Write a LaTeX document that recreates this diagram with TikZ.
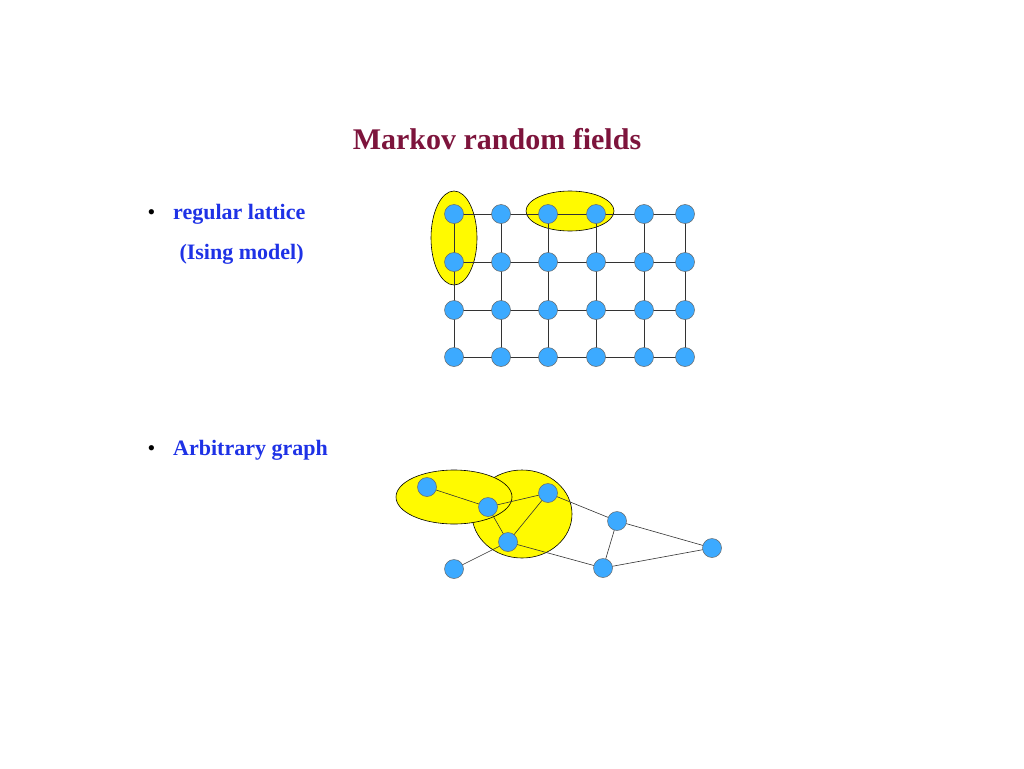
\documentclass[tikz,border=0pt]{standalone}
\usepackage{fontspec}
\setmainfont{Liberation Serif}
\definecolor{ttl}{RGB}{125,20,60}
\definecolor{txt}{RGB}{30,50,230}
\definecolor{nd}{RGB}{60,170,255}
\definecolor{yel}{RGB}{255,250,0}
\begin{document}
\begin{tikzpicture}[x=1pt,y=-1pt,
  vert/.style={circle,draw=black!60,fill=nd,minimum size=19pt,inner sep=0pt,line width=0.5pt},
  blob/.style={draw=black,fill=yel,line width=0.6pt},
  edge/.style={draw=black!80,line width=0.6pt}]
\useasboundingbox (0,0) rectangle (1024,768);
\node[text=ttl,font=\bfseries\fontsize{30}{36}\selectfont] (title) at (497,139) {Markov random fields};
\node[text=txt,font=\bfseries\fontsize{22}{26}\selectfont,anchor=west] (t1) at (144,214) {\textcolor{black}{\normalfont•}\hspace{18pt}regular lattice};
\node[text=txt,font=\bfseries\fontsize{22}{26}\selectfont,anchor=west] (t2) at (176,254) {(Ising model)};
\node[text=txt,font=\bfseries\fontsize{22}{26}\selectfont,anchor=west] (t3) at (144,450) {\textcolor{black}{\normalfont•}\hspace{18pt}Arbitrary graph};
% lattice
\draw[blob] (454,238) ellipse (23 and 47);
\draw[blob] (570,211) ellipse (44 and 20);
\foreach \c/\x in {1/454,2/501,3/548,4/596,5/644,6/685}
  \foreach \r/\y in {1/214,2/262,3/310,4/357}
    \coordinate (p\c\r) at (\x,\y);
\foreach \r in {1,...,4} \draw[edge] (p1\r) -- (p6\r);
\foreach \c in {1,...,6} \draw[edge] (p\c1) -- (p\c4);
\foreach \c in {1,...,6} \foreach \r in {1,...,4} \node[vert] (n\c\r) at (p\c\r) {};
% arbitrary graph
\draw[blob] (522,514) ellipse (50 and 44);
\draw[blob] (454,497) ellipse (58 and 27);
\coordinate (ca) at (427,487); \coordinate (cb) at (488,507); \coordinate (cc) at (548,493);
\coordinate (cd) at (508,542); \coordinate (ce) at (454,569); \coordinate (cf) at (617,521);
\coordinate (cg) at (603,568); \coordinate (ch) at (712,548);
\draw[edge] (ca)--(cb) (cb)--(cc) (cb)--(cd) (cc)--(cd) (cd)--(ce) (cc)--(cf) (cd)--(cg) (cf)--(cg) (cf)--(ch) (cg)--(ch);
\foreach \n in {a,b,c,d,e,f,g,h} \node[vert] (v\n) at (c\n) {};
\end{tikzpicture}
\end{document}
